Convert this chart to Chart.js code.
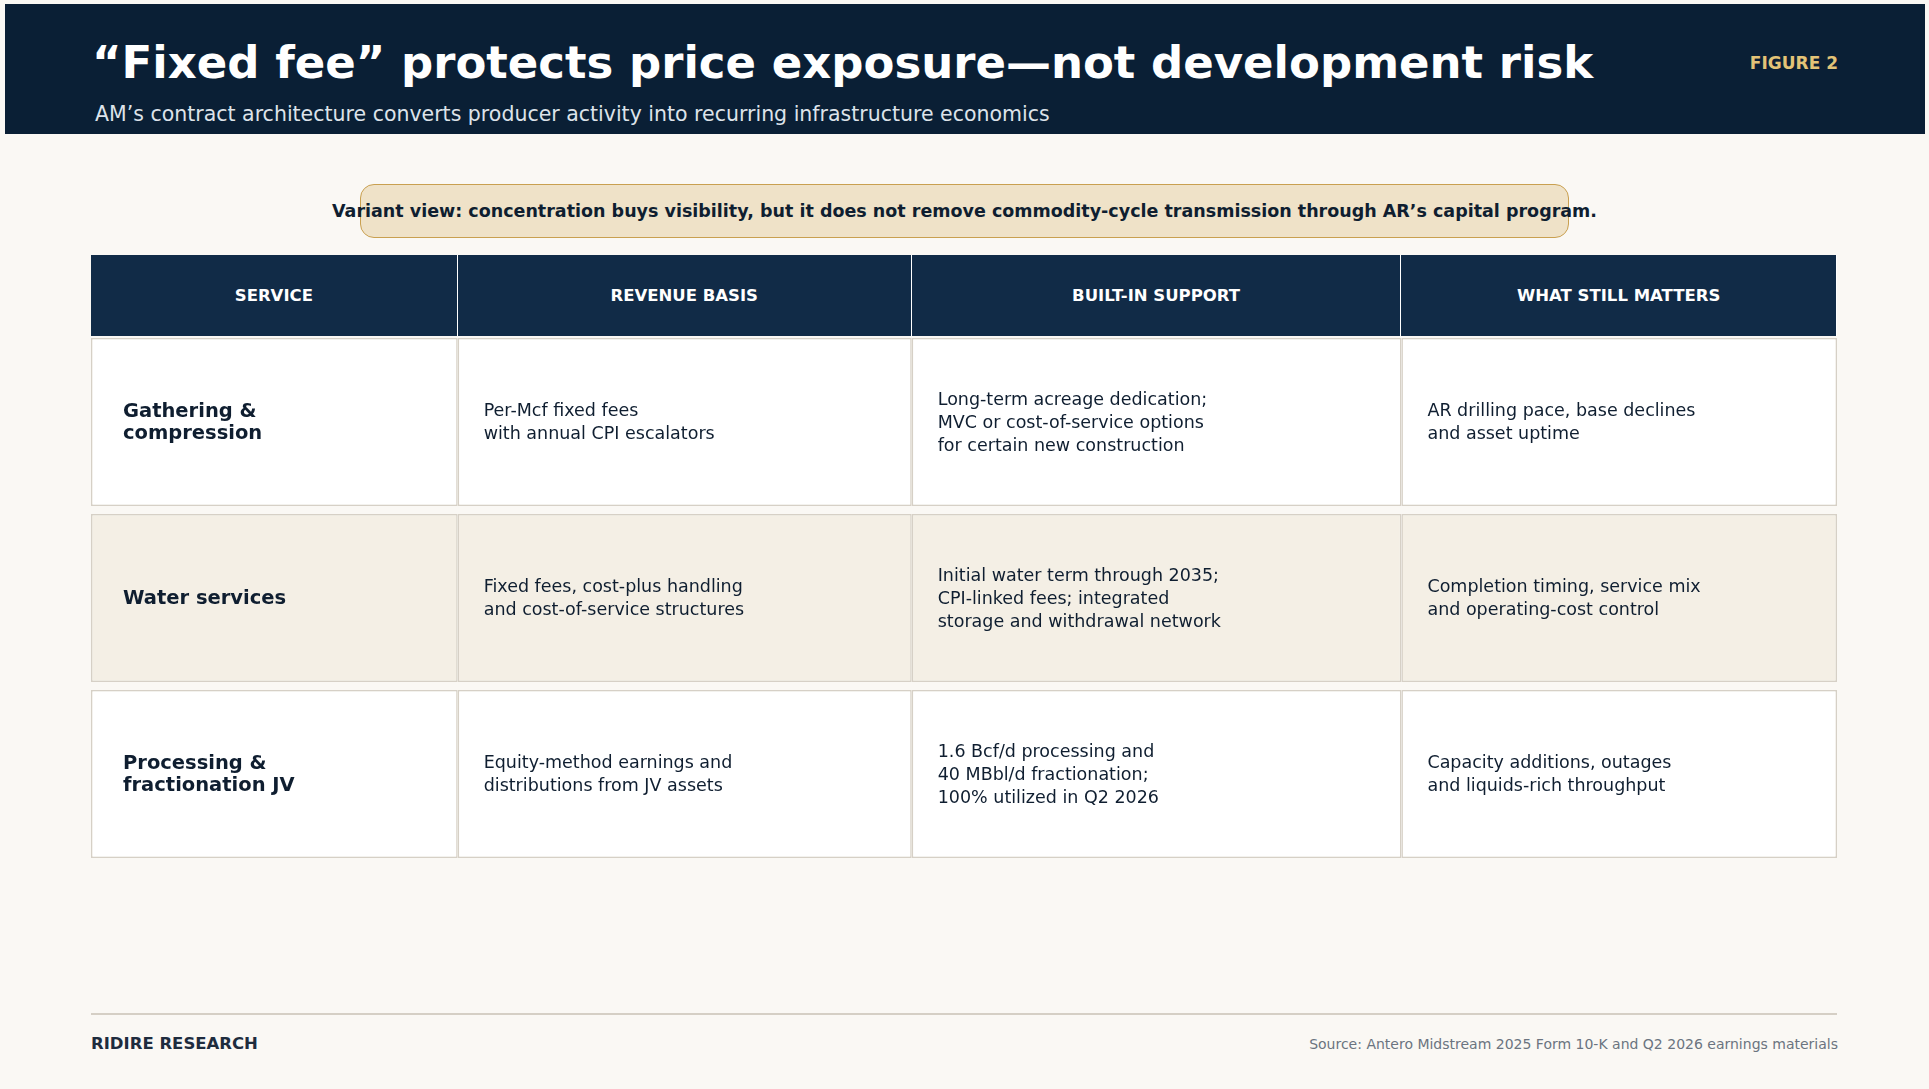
<!DOCTYPE html>
<html><head><meta charset="utf-8">
<script src="https://cdn.jsdelivr.net/npm/chart.js@4/dist/chart.umd.min.js"></script>
<style>
body{margin:0;width:1929px;height:1089px;background:#faf8f4;font-family:"DejaVu Sans",sans-serif;position:relative;overflow:hidden;color:#0f1e30}
.abs{position:absolute}
#hdr{left:5px;top:4px;width:1920px;height:130px;background:#0a1f35}
#title{left:92px;top:36px;font-size:45px;font-weight:bold;color:#fff;white-space:nowrap}
#sub{left:95px;top:102px;font-size:20.5px;color:#dde3ea;white-space:nowrap}
#fig{right:91px;top:53px;font-size:17px;font-weight:bold;color:#e3c377}
#call{left:360px;top:184px;width:1207px;height:52px;background:#efe2c8;border:1.5px solid #c9a050;border-radius:14px;display:flex;align-items:center;justify-content:center;font-size:17.5px;font-weight:bold;white-space:nowrap}
.th{top:255px;height:81px;background:#112b47;color:#fff;font-weight:bold;font-size:16.5px;display:flex;align-items:center;justify-content:center;border-right:1.5px solid #fff;box-sizing:border-box}
.cell{display:flex;align-items:center;font-size:17.5px;line-height:23px;box-sizing:border-box;padding-left:26px}
.svc{font-weight:bold;font-size:19.5px;line-height:22px;padding-left:32px}
#chartbox{left:91px;top:334px;width:1746px;height:528px}
#fl{left:91px;top:1013px;width:1746px;height:1.5px;background:#d5cfc5}
#brand{left:91px;top:1034px;font-size:16.5px;font-weight:bold;color:#1e2c3e}
#src{right:91px;top:1036px;font-size:14px;color:#6b7480}
</style></head><body>
<div id="hdr" class="abs"></div>
<div id="title" class="abs">“Fixed fee” protects price exposure—not development risk</div>
<div id="sub" class="abs">AM’s contract architecture converts producer activity into recurring infrastructure economics</div>
<div id="fig" class="abs">FIGURE 2</div>
<div id="call" class="abs">Variant view: concentration buys visibility, but it does not remove commodity-cycle transmission through AR’s capital program.</div>
<div id="chartbox" class="abs"><canvas id="c"></canvas></div>
<div id="fl" class="abs"></div>
<div id="brand" class="abs">RIDIRE RESEARCH</div>
<div id="src" class="abs">Source: Antero Midstream 2025 Form 10-K and Q2 2026 earnings materials</div>
<script>
const headers=["SERVICE","REVENUE BASIS","BUILT-IN SUPPORT","WHAT STILL MATTERS"];
const colEdges=[0,298,667,1065,1419];
const rows=["Gathering & compression","Water services","Processing & fractionation JV"];
const services=["Gathering &<br>compression","Water services","Processing &<br>fractionation JV"];
const revenue=["Per-Mcf fixed fees<br>with annual CPI escalators","Fixed fees, cost-plus handling<br>and cost-of-service structures","Equity-method earnings and<br>distributions from JV assets"];
const support=["Long-term acreage dedication;<br>MVC or cost-of-service options<br>for certain new construction","Initial water term through 2035;<br>CPI-linked fees; integrated<br>storage and withdrawal network","1.6 Bcf/d processing and<br>40 MBbl/d fractionation;<br>100% utilized in Q2 2026"];
const matters=["AR drilling pace, base declines<br>and asset uptime","Completion timing, service mix<br>and operating-cost control","Capacity additions, outages<br>and liquids-rich throughput"];
const rowColors=["#ffffff","#f4efe5","#ffffff"];

const datasets=headers.map((h,ci)=>({label:h,data:rows.map(()=>[colEdges[ci],colEdges[ci+1]]),
 backgroundColor:rowColors,borderColor:"#d6d0c6",borderWidth:1.5,borderSkipped:false,grouped:false,barPercentage:0.955,categoryPercentage:1}));
const chart=new Chart(document.getElementById('c'),{type:'bar',data:{labels:rows,datasets},
 options:{indexAxis:'y',responsive:true,maintainAspectRatio:false,animation:false,
 layout:{padding:0},plugins:{legend:{display:false},tooltip:{enabled:false}},
 scales:{x:{type:'linear',min:0,max:1419,display:false},y:{display:false}}}});

// header cells and text overlays positioned from chart scales
const box=document.getElementById('chartbox');
const xs=chart.scales.x, ys=chart.scales.y;
const cols=[services,revenue,support,matters];
headers.forEach((h,ci)=>{
 const l=91+xs.getPixelForValue(colEdges[ci]), r=91+xs.getPixelForValue(colEdges[ci+1]);
 const d=document.createElement('div');d.className='abs th';d.style.left=l+'px';d.style.width=(r-l)+'px';d.textContent=h;document.body.appendChild(d);
 rows.forEach((_,ri)=>{
  const cy=334+ys.getPixelForValue(ri), hgt=168;
  const c=document.createElement('div');c.className='abs cell'+(ci==0?' svc':'');
  c.style.left=l+'px';c.style.width=(r-l)+'px';c.style.top=(cy-hgt/2)+'px';c.style.height=hgt+'px';
  c.innerHTML=cols[ci][ri];document.body.appendChild(c);
 });
});
</script>
</body></html>
